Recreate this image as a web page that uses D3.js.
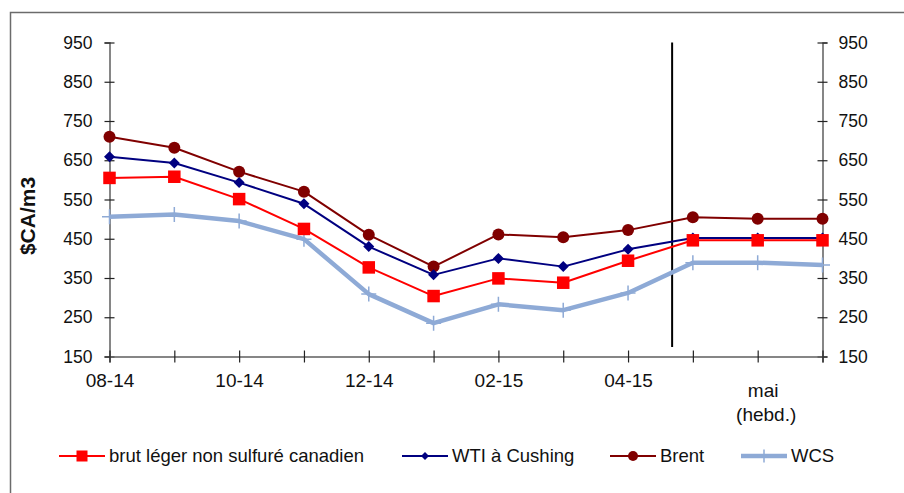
<!DOCTYPE html>
<html>
<head>
<meta charset="utf-8">
<script src="https://cdn.jsdelivr.net/npm/d3@7"></script>
<style>
  body { margin: 0; background: #fff; }
  text { font-family: "Liberation Sans", Arial, sans-serif; }
</style>
</head>
<body>
<div id="chart"></div>
<script>
// Data
const categories = ["08-14", "09-14", "10-14", "11-14", "12-14", "01-15", "02-15", "03-15", "04-15", "mai-1", "mai-2", "mai-3"]
const tickLabels = ["08-14", "", "10-14", "", "12-14", "", "02-15", "", "04-15", "", "mai (hebd.)", ""]
const yTicks = [150, 250, 350, 450, 550, 650, 750, 850, 950]

const brutLeger = [605, 608, 551, 475, 377, 304, 349, 338, 394, 446, 446, 446]
const wti = [659, 643, 593, 539, 430, 358, 400, 379, 423, 452, 452, 452]
const brent = [710, 682, 621, 570, 460, 379, 461, 454, 472, 505, 501, 501]
const wcs = [506, 512, 495, 449, 309, 235, 283, 268, 312, 389, 389, 383]

// vertical separator (between monthly and weekly data), in category index / value units
const splitIndex = 8.68
const splitRange = [174, 950]

const series = [
    { name: "brut léger non sulfuré canadien", values: brutLeger, color: "#ff0000", width: 2, marker: "square" },
    { name: "WTI à Cushing", values: wti, color: "#000080", width: 2, marker: "diamond" },
    { name: "Brent", values: brent, color: "#800000", width: 2, marker: "circle" },
    { name: "WCS", values: wcs, color: "#8eaad6", width: 4.5, marker: "plus" }
]

// Constants
const width = 904
const height = 493
const plot = { left: 109.5, right: 822.5, top: 42.5, bottom: 356.5 }
const font = "'Liberation Sans', Arial, sans-serif"
const axisColor = "#5f5f5f"

const svg = d3.select("#chart")
    .append("svg")
    .attr("width", width)
    .attr("height", height)

// Frame (only top and left edges visible)
svg.append("rect")
    .attr("x", 10.5)
    .attr("y", 12.5)
    .attr("width", 1000)
    .attr("height", 600)
    .attr("fill", "none")
    .attr("stroke", "#6b6b6b")
    .attr("stroke-width", 1.5)

// Scales
const x = d3.scaleLinear()
    .domain([0, categories.length - 1])
    .range([plot.left, plot.right])

const y = d3.scaleLinear()
    .domain([150, 950])
    .range([plot.bottom, plot.top])

// Axes
const yAxisLeft = d3.axisLeft(y).tickValues(yTicks).tickSize(5).tickPadding(12)
const yAxisRight = d3.axisRight(y).tickValues(yTicks).tickSize(5).tickPadding(11)
const xAxis = d3.axisBottom(x).tickValues(d3.range(categories.length)).tickSize(6).tickFormat(i => tickLabels[i])

const styleAxis = g => {
    g.select(".domain").attr("stroke", axisColor).attr("stroke-width", 1.5)
    g.selectAll(".tick line").attr("stroke", "#222").attr("stroke-width", 1.2)
    g.selectAll("text")
        .style("font-family", font)
        .style("font-size", "17.5px")
        .attr("fill", "#111")
}

const yLeftG = svg.append("g")
    .attr("transform", `translate(${plot.left}, 0)`)
    .call(yAxisLeft)
    .call(styleAxis)
yLeftG.selectAll(".tick line").attr("x1", 5)

const yRightG = svg.append("g")
    .attr("transform", `translate(${plot.right}, 0)`)
    .call(yAxisRight)
    .call(styleAxis)
yRightG.selectAll(".tick line").attr("x1", -5)

const xG = svg.append("g")
    .attr("transform", `translate(0, ${plot.bottom})`)
    .call(xAxis)
    .call(styleAxis)
xG.selectAll(".tick line").attr("y1", -6)
xG.selectAll(".tick text")
    .style("font-size", "19px")
    .attr("dy", null)
    .attr("y", 30.5)

// two-line weekly label
xG.selectAll(".tick text")
    .filter(i => tickLabels[i].indexOf(" ") > 0)
    .each(function (i) {
        const parts = tickLabels[i].split(" ")
        const t = d3.select(this).text(null).attr("y", null)
        t.append("tspan").attr("x", 5).attr("y", 40.5).text(parts[0])
        t.append("tspan").attr("x", 8).attr("y", 64.5).text(parts[1])
    })

// Y axis title
svg.append("text")
    .attr("transform", `translate(35, ${216}) rotate(-90)`)
    .attr("text-anchor", "middle")
    .style("font-family", font)
    .style("font-size", "21px")
    .style("font-weight", "bold")
    .attr("fill", "#111")
    .text("$CA/m3")

// Vertical separator
svg.append("line")
    .attr("x1", x(splitIndex))
    .attr("x2", x(splitIndex))
    .attr("y1", y(splitRange[0]))
    .attr("y2", y(splitRange[1]))
    .attr("stroke", "#000")
    .attr("stroke-width", 2)

// Marker helper
const drawMarker = (g, type, color, cx, cy, s) => {
    if (type === "square") {
        g.append("rect")
            .attr("x", cx - s / 2).attr("y", cy - s / 2)
            .attr("width", s).attr("height", s)
            .attr("fill", color)
    } else if (type === "diamond") {
        g.append("path")
            .attr("d", `M${cx},${cy - s / 2}L${cx + s / 2},${cy}L${cx},${cy + s / 2}L${cx - s / 2},${cy}Z`)
            .attr("fill", color)
    } else if (type === "circle") {
        g.append("circle")
            .attr("cx", cx).attr("cy", cy).attr("r", s / 2)
            .attr("fill", color)
    } else if (type === "plus") {
        g.append("path")
            .attr("d", `M${cx - s / 2},${cy}H${cx + s / 2}M${cx},${cy - s / 2}V${cy + s / 2}`)
            .attr("stroke", color)
            .attr("stroke-width", 1.5)
            .attr("fill", "none")
    }
}

const markerSize = { square: 12.5, diamond: 11, circle: 12, plus: 15 }
const legendMarkerSize = { square: 11, diamond: 8, circle: 10, plus: 13 }

// Lines - draw WCS first so others sit on top
const line = d3.line()
    .x((d, i) => x(i))
    .y(d => y(d))

const seriesG = svg.append("g")
series.slice().reverse().forEach(s => {
    seriesG.append("path")
        .datum(s.values)
        .attr("d", line)
        .attr("fill", "none")
        .attr("stroke", s.color)
        .attr("stroke-width", s.width)
        .attr("stroke-linejoin", "round")
    s.values.forEach((v, i) => drawMarker(seriesG, s.marker, s.color, x(i), y(v), markerSize[s.marker]))
})

// Legend
const legendY = 456
const legendX = [59, 402, 610, 741]
const legend = svg.append("g")
series.forEach((s, k) => {
    const lx = legendX[k]
    legend.append("line")
        .attr("x1", lx).attr("x2", lx + 46)
        .attr("y1", legendY).attr("y2", legendY)
        .attr("stroke", s.color)
        .attr("stroke-width", s.width)
    drawMarker(legend, s.marker, s.color, lx + 23, legendY, legendMarkerSize[s.marker])
    legend.append("text")
        .attr("x", lx + 50)
        .attr("y", legendY)
        .attr("dy", "0.35em")
        .style("font-family", font)
        .style("font-size", "18.5px")
        .attr("fill", "#111")
        .text(s.name)
})
</script>
</body>
</html>
